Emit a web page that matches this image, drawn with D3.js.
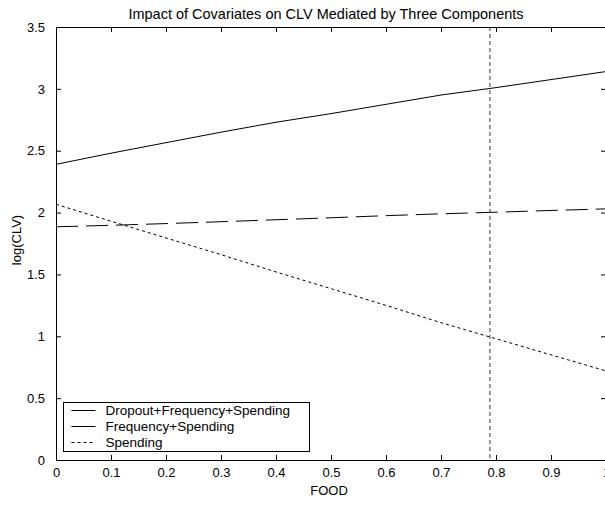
<!DOCTYPE html>
<html>
<head>
<meta charset="utf-8">
<script src="https://cdn.jsdelivr.net/npm/d3@7"></script>
<style>
  body { margin: 0; background: #fff; }
  svg { display: block; font-family: "Liberation Sans", Arial, sans-serif; }
</style>
</head>
<body>
<svg id="chart"></svg>
<script>
// Data
const food = [0, 0.1, 0.2, 0.3, 0.4, 0.5, 0.6, 0.7, 0.8, 0.9, 1.0];
const dropoutFreqSpend = [2.39, 2.48, 2.565, 2.65, 2.73, 2.80, 2.875, 2.95, 3.01, 3.075, 3.14];
const freqSpend = [1.885, 1.897, 1.911, 1.926, 1.942, 1.958, 1.975, 1.99, 2.003, 2.017, 2.03];
const spending = [2.067, 1.93, 1.795, 1.66, 1.52, 1.385, 1.25, 1.11, 0.98, 0.85, 0.72];
const markerFood = 0.789;
const xTicks = [0, 0.1, 0.2, 0.3, 0.4, 0.5, 0.6, 0.7, 0.8, 0.9, 1];
const yTicks = [0, 0.5, 1, 1.5, 2, 2.5, 3, 3.5];
const seriesNames = ["Dropout+Frequency+Spending", "Frequency+Spending", "Spending"];

const width = 605, height = 507;
const margin = { top: 27, right: -1, bottom: 47, left: 56 };
const innerWidth = width - margin.left - margin.right;
const innerHeight = height - margin.top - margin.bottom;

const svg = d3.select("#chart")
  .attr("width", width)
  .attr("height", height);

const g = svg.append("g")
  .attr("transform", `translate(${margin.left},${margin.top})`);

const x = d3.scaleLinear().domain([0, 1]).range([0, innerWidth]);
const y = d3.scaleLinear().domain([0, 3.5]).range([innerHeight, 0]);

// series definitions
const series = [
  { name: seriesNames[0], values: dropoutFreqSpend, dash: null },
  { name: seriesNames[1], values: freqSpend, dash: "22,8" },
  { name: seriesNames[2], values: spending, dash: "3,3" }
];

const line = d3.line()
  .x((d, i) => x(food[i]))
  .y(d => y(d));

g.selectAll(".series")
  .data(series)
  .enter()
  .append("path")
  .attr("class", "series")
  .attr("d", d => line(d.values))
  .attr("fill", "none")
  .attr("stroke", "#000")
  .attr("stroke-width", 1)
  .attr("stroke-dasharray", d => d.dash);

// vertical marker
g.append("line")
  .attr("x1", x(markerFood))
  .attr("x2", x(markerFood))
  .attr("y1", y(3.5))
  .attr("y2", y(0))
  .attr("stroke", "#333")
  .attr("stroke-width", 1)
  .attr("stroke-dasharray", "4,3");

// axes (ticks inward, all four sides)
const tick = 5;
const xAxis = g.append("g")
  .attr("transform", `translate(0,${innerHeight})`)
  .call(d3.axisBottom(x).tickValues(xTicks).tickSize(-tick).tickPadding(8).tickFormat(d3.format("~g")));
const xTop = g.append("g")
  .call(d3.axisTop(x).tickValues(xTicks).tickSize(-tick).tickFormat(""));
const yAxis = g.append("g")
  .call(d3.axisLeft(y).tickValues(yTicks).tickSize(-tick).tickPadding(11).tickFormat(d3.format("~g")));
const yRight = g.append("g")
  .attr("transform", `translate(${innerWidth},0)`)
  .call(d3.axisRight(y).tickValues(yTicks).tickSize(-tick).tickFormat(""));

// no labels on the top and right sides
xTop.selectAll("text").remove();
yRight.selectAll("text").remove();

[xAxis, xTop, yAxis, yRight].forEach(a => {
  a.select(".domain").attr("stroke", "#000");
  a.selectAll(".tick line").attr("stroke", "#000");
  a.selectAll("text").attr("fill", "#000").style("font-size", "13px");
});

// title and axis labels
svg.append("text")
  .attr("x", 326)
  .attr("y", 19)
  .attr("text-anchor", "middle")
  .style("font-size", "14.5px")
  .text("Impact of Covariates on CLV Mediated by Three Components");

svg.append("text")
  .attr("x", 329)
  .attr("y", 495)
  .attr("text-anchor", "middle")
  .style("font-size", "13px")
  .text("FOOD");

svg.append("text")
  .attr("transform", "translate(21,240) rotate(-90)")
  .attr("text-anchor", "middle")
  .style("font-size", "13px")
  .text("log(CLV)");

// legend
const legend = svg.append("g").attr("transform", "translate(63.5,402.5)");
legend.append("rect")
  .attr("width", 246)
  .attr("height", 49)
  .attr("fill", "#fff")
  .attr("stroke", "#000");

const rows = legend.selectAll(".row")
  .data(series)
  .enter()
  .append("g")
  .attr("class", "row")
  .attr("transform", (d, i) => `translate(0,${8 + i * 16})`);

rows.append("line")
  .attr("x1", 8)
  .attr("x2", 32)
  .attr("stroke", "#000")
  .attr("stroke-dasharray", d => d.dash === "3,3" ? "3,3" : null);

rows.append("text")
  .attr("x", 42)
  .attr("dy", "0.35em")
  .style("font-size", "13.5px")
  .text(d => d.name);
</script>
</body>
</html>
